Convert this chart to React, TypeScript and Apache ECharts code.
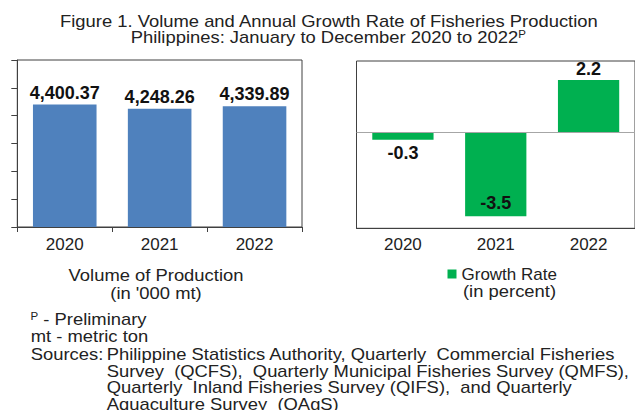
import React, { useEffect, useRef } from 'react';
import * as echarts from 'echarts';

const years = ['2020', '2021', '2022'];
const volume = [4400.37, 4248.26, 4339.89];
const growth = [-0.3, -3.5, 2.2];
const volumeAxis = { min: 0, max: 6000, interval: 1000 };
const growthAxis = { min: -4, max: 3, interval: 1 };

const titleLine1 = 'Figure 1. Volume and Annual Growth Rate of Fisheries Production';
const titleLine2 = 'Philippines: January to December 2020 to 2022';
const volumeCaption = ['Volume of Production', "(in '000 mt)"];
const growthCaption = ['Growth Rate', '(in percent)'];
const sourceLines = [
  'Philippine Statistics Authority, Quarterly  Commercial Fisheries',
  'Survey  (QCFS),  Quarterly Municipal Fisheries Survey (QMFS),',
  'Quarterly  Inland Fisheries Survey (QIFS),  and Quarterly',
  'Aquaculture Survey  (QAgS)',
];

const FONT = '"Liberation Sans", Arial, sans-serif';
const TEXT = '#222';

function txt(text: string, x: number, y: number, extra: any = {}) {
  return {
    type: 'text',
    x,
    y,
    scaleX: 1.15,
    silent: true,
    style: {
      text,
      fill: TEXT,
      fontSize: 16,
      fontFamily: FONT,
      textAlign: extra.align || 'left',
      textVerticalAlign: 'middle',
      align: extra.align || 'left',
      verticalAlign: 'middle',
      rich: {
        sup: { fontSize: 10, fontFamily: FONT, fill: TEXT, verticalAlign: 'top' },
      },
    },
  };
}

const fmt = (v: number) =>
  v.toLocaleString('en-US', { minimumFractionDigits: 2, maximumFractionDigits: 2 });

export default function App() {
  const ref = useRef<HTMLDivElement>(null);
  useEffect(() => {
    document.body.style.margin = '0';
    const chart = echarts.init(ref.current!, null, { renderer: 'svg' });
    const option: any = {
      animation: false,
      backgroundColor: '#fff',
      textStyle: { fontFamily: FONT },
      grid: [
        { left: 17.3, top: 60, width: 284.7, height: 167, show: true, borderColor: '#404040', borderWidth: 1 },
        { left: 356.5, top: 61, width: 290, height: 167.3, show: true, borderColor: '#404040', borderWidth: 1 },
      ],
      xAxis: [
        {
          type: 'category', gridIndex: 0, data: years,
          axisLine: { lineStyle: { color: '#404040' } },
          axisTick: { show: true, length: 5, lineStyle: { color: '#404040' } },
          axisLabel: { fontSize: 17, color: TEXT, margin: 9, fontFamily: FONT },
        },
        {
          type: 'category', gridIndex: 1, data: years,
          axisLine: { show: true, onZero: false, lineStyle: { color: '#404040' } },
          axisTick: { show: false },
          axisLabel: { fontSize: 17, color: TEXT, margin: 8, fontFamily: FONT },
        },
      ],
      yAxis: [
        {
          type: 'value', gridIndex: 0, ...volumeAxis,
          axisLabel: { show: false },
          axisLine: { show: true, lineStyle: { color: '#404040' } },
          axisTick: { show: true, length: 6, lineStyle: { color: '#404040' } },
          splitLine: { show: false },
        },
        {
          type: 'value', gridIndex: 1, ...growthAxis,
          axisLabel: { show: false },
          axisLine: { show: false },
          axisTick: { show: false },
          splitLine: { show: false },
        },
      ],
      legend: {
        data: ['Growth Rate'],
        left: 447.5,
        top: 265.5,
        padding: 0,
        icon: 'rect',
        itemWidth: 9,
        itemHeight: 9,
        selectedMode: false,
        textStyle: { fontSize: 17, color: TEXT, fontFamily: FONT },
      },
      series: [
        {
          type: 'bar',
          name: 'Volume of Production',
          xAxisIndex: 0,
          yAxisIndex: 0,
          data: volume,
          barWidth: '67%',
          itemStyle: { color: '#4F81BD' },
          label: {
            show: true,
            position: 'top',
            distance: 3,
            formatter: (p: any) => fmt(p.value),
            fontSize: 18,
            fontWeight: 'bold',
            color: '#111',
            fontFamily: FONT,
          },
        },
        {
          type: 'bar',
          name: 'Growth Rate',
          xAxisIndex: 1,
          yAxisIndex: 1,
          data: growth.map((v) => ({
            value: v,
            label: {
              position: v >= 0 ? 'top' : Math.abs(v) > 1 ? 'insideBottom' : 'bottom',
              distance: v >= 0 ? 2 : 4,
            },
          })),
          barWidth: '66%',
          itemStyle: { color: '#00B050' },
          label: {
            show: true,
            formatter: (p: any) => p.value.toFixed(1),
            fontSize: 18,
            fontWeight: 'bold',
            color: '#111',
            fontFamily: FONT,
          },
          markLine: {
            silent: true,
            symbol: ['none', 'none'],
            label: { show: false },
            lineStyle: { color: '#a6a6a6', type: 'solid', width: 1 },
            data: [{ yAxis: 0 }],
          },
        },
      ],
      graphic: [
        txt(titleLine1, 60, 21),
        txt(titleLine2 + '{sup|P}', 130.7, 37),
        txt(volumeCaption[0], 156, 275.7, { align: 'center' }),
        txt(volumeCaption[1], 156, 293.3, { align: 'center' }),
        txt(growthCaption[1], 463, 291.7),
        txt('{sup|P} - Preliminary', 30.5, 319.3),
        txt('mt - metric ton', 30.7, 336.7),
        txt('Sources:', 30.7, 354.3),
        ...sourceLines.map((l, i) => txt(l, 106.7, [354.3, 371.7, 387.3, 404][i])),
      ],
    };
    chart.setOption(option);
    return () => chart.dispose();
  }, []);
  return <div ref={ref} style={{ width: 635, height: 410 }} />;
}
